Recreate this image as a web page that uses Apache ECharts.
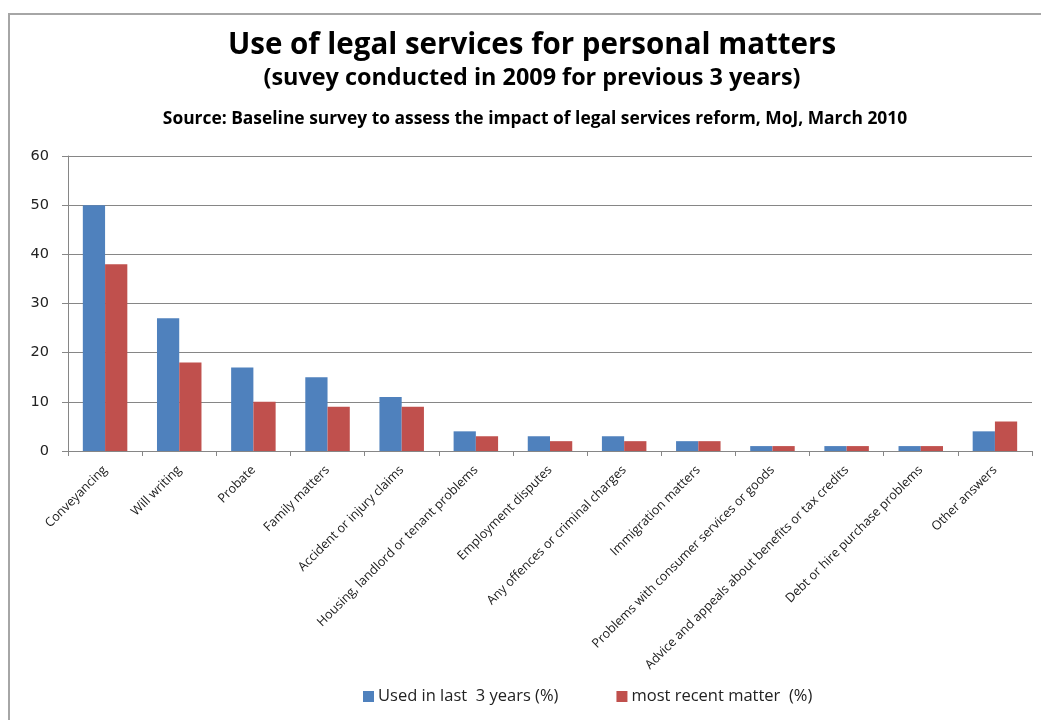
<!DOCTYPE html>
<html>
<head>
<meta charset="utf-8">
<script src="https://cdn.jsdelivr.net/npm/echarts@6/dist/echarts.min.js"></script>
<style>
  html, body { margin: 0; padding: 0; background: #fff; }
  #chart { width: 1041px; height: 720px; }
</style>
</head>
<body>
<div id="chart"></div>
<script>
// Survey categories (x axis)
const categories = [
  'Conveyancing',
  'Will writing',
  'Probate',
  'Family matters',
  'Accident or injury claims',
  'Housing, landlord or tenant problems',
  'Employment disputes',
  'Any offences or criminal charges',
  'Immigration matters',
  'Problems with consumer services or goods',
  'Advice and appeals about benefits or tax credits',
  'Debt or hire purchase problems',
  'Other answers'
];

// Percentages per category
const usedLast3Years = [50, 27, 17, 15, 11, 4, 3, 3, 2, 1, 1, 1, 4];
const mostRecentMatter = [38, 18, 10, 9, 9, 3, 2, 2, 2, 1, 1, 1, 6];

const seriesNames = ['Used in last  3 years (%)', 'most recent matter  (%)'];
const yTicks = { min: 0, max: 60, interval: 10 };

const chart = echarts.init(document.getElementById('chart'), null, { renderer: 'canvas' });

const font = '"Open Sans", Lato, sans-serif';

function centredText(text, x, y, css) {
  return {
    type: 'text',
    x: x,
    y: y,
    silent: true,
    style: {
      text: text,
      font: css,
      fill: '#000',
      align: 'center',
      verticalAlign: 'middle'
    }
  };
}

chart.setOption({
  backgroundColor: '#ffffff',
  animation: false,
  graphic: [
    {
      type: 'rect',
      shape: { x: 9, y: 14, width: 1100, height: 800 },
      style: { fill: 'none', stroke: '#a6a6a6', lineWidth: 2 },
      silent: true
    },
    centredText('Use of legal services for personal matters', 532, 46, 'bold 29.5px ' + font),
    centredText('(suvey conducted in 2009 for previous 3 years)', 532, 78, 'bold 23.4px ' + font),
    centredText('Source: Baseline survey to assess the impact of legal services reform, MoJ, March 2010', 535, 119, 'bold 17.4px ' + font)
  ],
  legend: {
    bottom: 10,
    left: 358,
    itemWidth: 11,
    itemHeight: 11,
    itemGap: 58,
    icon: 'rect',
    textStyle: { fontFamily: font, fontSize: 16.5, color: '#222', padding: [0, 0, 0, -1] },
    data: seriesNames
  },
  grid: {
    left: 68,
    right: 9,
    top: 156,
    bottom: 269,
    containLabel: false
  },
  xAxis: {
    type: 'category',
    data: categories,
    axisLine: { lineStyle: { color: '#868686', width: 1 } },
    axisTick: { show: true, length: 5, lineStyle: { color: '#868686' } },
    axisLabel: {
      interval: 0,
      rotate: 45,
      fontFamily: font,
      fontSize: 12.6,
      color: '#1a1a1a',
      margin: 17
    }
  },
  yAxis: {
    type: 'value',
    min: yTicks.min,
    max: yTicks.max,
    interval: yTicks.interval,
    axisLine: { show: true, lineStyle: { color: '#868686', width: 1 } },
    axisTick: { show: true, length: 6, lineStyle: { color: '#868686' } },
    splitLine: { show: true, lineStyle: { color: '#868686', width: 1 } },
    axisLabel: {
      fontFamily: '"DejaVu Sans", sans-serif',
      fontSize: 14.5,
      color: '#222',
      margin: 19
    }
  },
  series: [
    {
      name: seriesNames[0],
      type: 'bar',
      data: usedLast3Years,
      barGap: '0%',
      barCategoryGap: '40%',
      itemStyle: { color: '#4F81BD' }
    },
    {
      name: seriesNames[1],
      type: 'bar',
      data: mostRecentMatter,
      barGap: '0%',
      barCategoryGap: '40%',
      itemStyle: { color: '#C0504D' }
    }
  ]
});
</script>
</body>
</html>
